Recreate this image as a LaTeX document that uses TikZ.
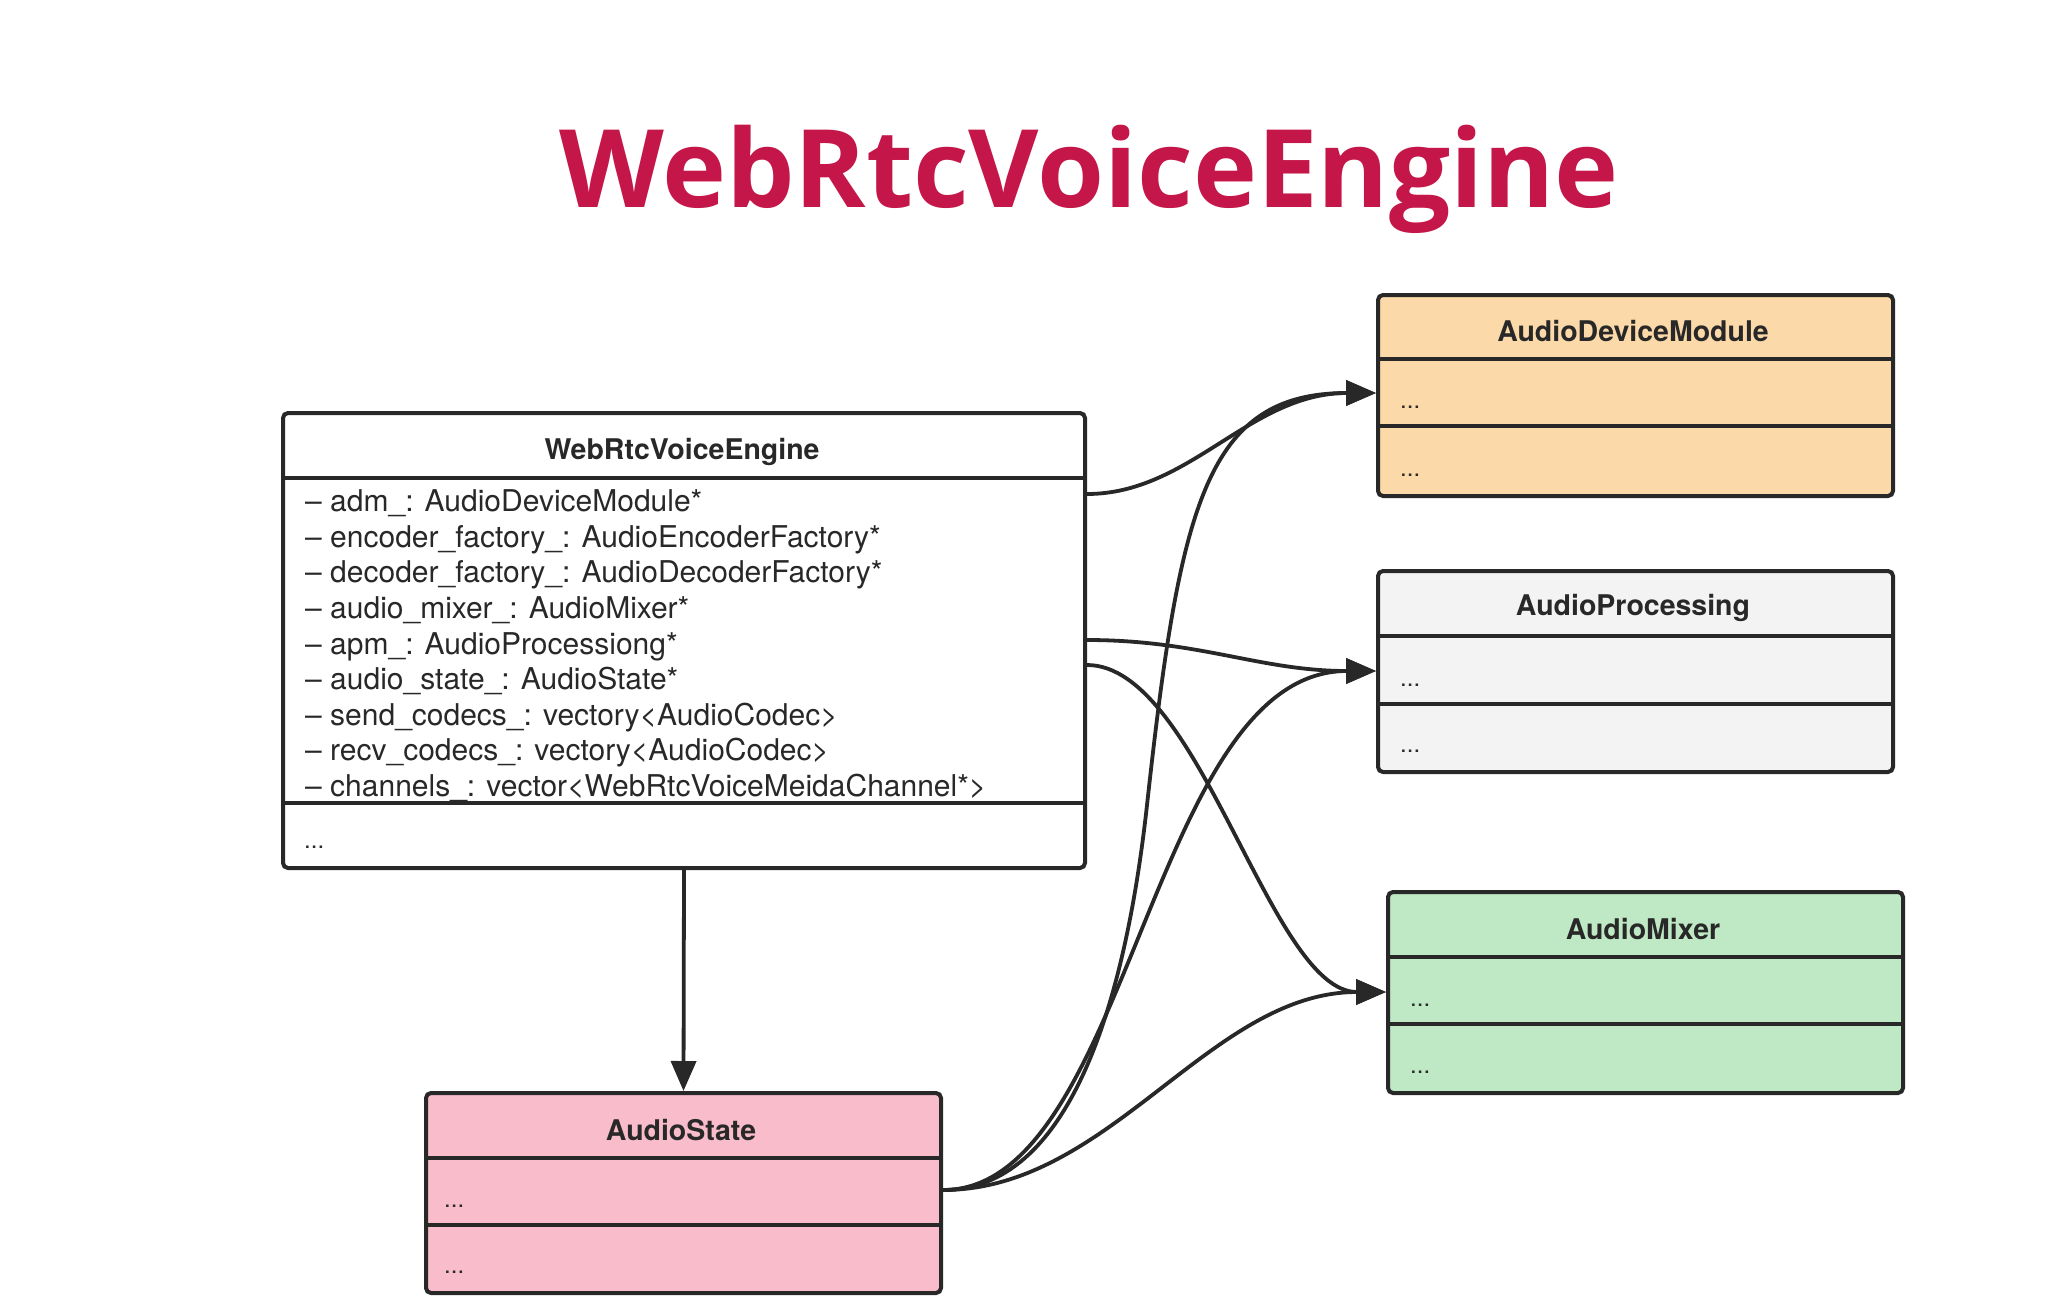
\documentclass[tikz,border=0pt]{standalone}
\usepackage{fontspec}
\setmainfont{TeX Gyre Heros}
\newfontfamily\titlefont{Open Sans}
\usetikzlibrary{arrows.meta}
\definecolor{linec}{RGB}{40,40,40}
\definecolor{txtc}{RGB}{40,40,40}
\definecolor{titlec}{RGB}{196,22,72}
\definecolor{admc}{RGB}{252,217,168}
\definecolor{apc}{RGB}{243,243,243}
\definecolor{amc}{RGB}{190,233,196}
\definecolor{asc}{RGB}{248,188,203}
\tikzset{
  umlbox/.style={draw=linec, line width=4pt, rounded corners=5pt, inner sep=0pt, anchor=north west},
  sepline/.style={draw=linec, line width=4pt},
  boxtitle/.style={font=\bfseries\fontsize{28.5}{34}\selectfont, text=txtc, inner sep=0pt},
  attr/.style={font=\fontsize{30}{34}\selectfont, text=txtc, anchor=west, inner sep=0pt, text height=22pt, text depth=6pt},
  dots/.style={font=\fontsize{24}{30}\selectfont, text=txtc, anchor=west, inner sep=0pt},
  conn/.style={draw=linec, line width=3.8pt, -{Triangle[length=30pt,width=25pt]}},
}
\begin{document}
\begin{tikzpicture}[x=1pt,y=-1pt]
\useasboundingbox[fill=white] (0,0) rectangle (2070,1306);

% title
\node[text=titlec, inner sep=0pt] (title) at (1089,179)
  {\resizebox{1058pt}{!}{\titlefont\bfseries WebRtcVoiceEngine}};

% main box
\node[umlbox, fill=white, minimum width=802pt, minimum height=455pt] (main) at (281,411) {};
\draw[sepline] (main.west |- 0,478) -- (main.east |- 0,478);
\draw[sepline] (main.west |- 0,803) -- (main.east |- 0,803);
\node[boxtitle] (mainT) at (682,452) {WebRtcVoiceEngine};
\node[attr] (a1) at (305,503.4) {– adm\_: AudioDeviceModule*};
\node[attr] (a2) at (305,539.0) {– encoder\_factory\_: AudioEncoderFactory*};
\node[attr] (a3) at (305,574.6) {– decoder\_factory\_: AudioDecoderFactory*};
\node[attr] (a4) at (305,610.3) {– audio\_mixer\_: AudioMixer*};
\node[attr] (a5) at (305,646.0) {– apm\_: AudioProcessiong*};
\node[attr] (a6) at (305,681.6) {– audio\_state\_: AudioState*};
\node[attr] (a7) at (305,717.2) {– send\_codecs\_: vectory<AudioCodec>};
\node[attr] (a8) at (305,752.9) {– recv\_codecs\_: vectory<AudioCodec>};
\node[attr] (a9) at (305,788.5) {– channels\_: vector<WebRtcVoiceMeidaChannel*>};
\node[dots] (mainD) at (304,847) {...};

% AudioDeviceModule
\node[umlbox, fill=admc, minimum width=515pt, minimum height=201pt] (adm) at (1376,293) {};
\draw[sepline] (adm.west |- 0,359) -- (adm.east |- 0,359);
\draw[sepline] (adm.west |- 0,426) -- (adm.east |- 0,426);
\node[boxtitle] (admT) at (1633,331) {AudioDeviceModule};
\node[dots] (admD1) at (1400,407) {...};
\node[dots] (admD2) at (1400,475) {...};

% AudioProcessing
\node[umlbox, fill=apc, minimum width=515pt, minimum height=201pt] (ap) at (1376,569) {};
\draw[sepline] (ap.west |- 0,636) -- (ap.east |- 0,636);
\draw[sepline] (ap.west |- 0,704) -- (ap.east |- 0,704);
\node[boxtitle] (apT) at (1633,608) {AudioProcessing};
\node[dots] (apD1) at (1400,685) {...};
\node[dots] (apD2) at (1400,751) {...};

% AudioMixer
\node[umlbox, fill=amc, minimum width=515pt, minimum height=201pt] (am) at (1386,890) {};
\draw[sepline] (am.west |- 0,957) -- (am.east |- 0,957);
\draw[sepline] (am.west |- 0,1024) -- (am.east |- 0,1024);
\node[boxtitle] (amT) at (1643,929) {AudioMixer};
\node[dots] (amD1) at (1410,1005) {...};
\node[dots] (amD2) at (1410,1072) {...};

% AudioState
\node[umlbox, fill=asc, minimum width=515pt, minimum height=200pt] (as) at (424,1091) {};
\draw[sepline] (as.west |- 0,1158) -- (as.east |- 0,1158);
\draw[sepline] (as.west |- 0,1225) -- (as.east |- 0,1225);
\node[boxtitle] (asT) at (681,1130) {AudioState};
\node[dots] (asD1) at (444,1206) {...};
\node[dots] (asD2) at (444,1272) {...};

% connector end points
\coordinate (mOutAdm) at (main.east |- 0,494);
\coordinate (mOutAp)  at (main.east |- 0,640);
\coordinate (mOutAm)  at (main.east |- 0,665);
\coordinate (asOut)   at (as.east |- 0,1190);
\coordinate (admIn)   at (adm.west |- 0,393);
\coordinate (apIn)    at (ap.west |- 0,671);
\coordinate (amIn)    at (am.west |- 0,992);

% connectors
\draw[conn] (mOutAdm) .. controls (1190,494) and (1250,393) .. (admIn);
\draw[conn] (mOutAp) .. controls (1200,640) and (1260,671) .. (apIn);
\draw[conn] (mOutAm) .. controls (1200,665) and (1270,992) .. (amIn);
\draw[conn] (main.south) -- (as.north);
\draw[conn] (asOut) .. controls (1069,1190) and (1125,1005) .. (1147,805)
               .. controls (1180,505) and (1206,393) .. (admIn);
\draw[conn] (asOut) .. controls (1130,1190) and (1150,671) .. (apIn);
\draw[conn] (asOut) .. controls (1110,1190) and (1210,992) .. (amIn);
\end{tikzpicture}
\end{document}
